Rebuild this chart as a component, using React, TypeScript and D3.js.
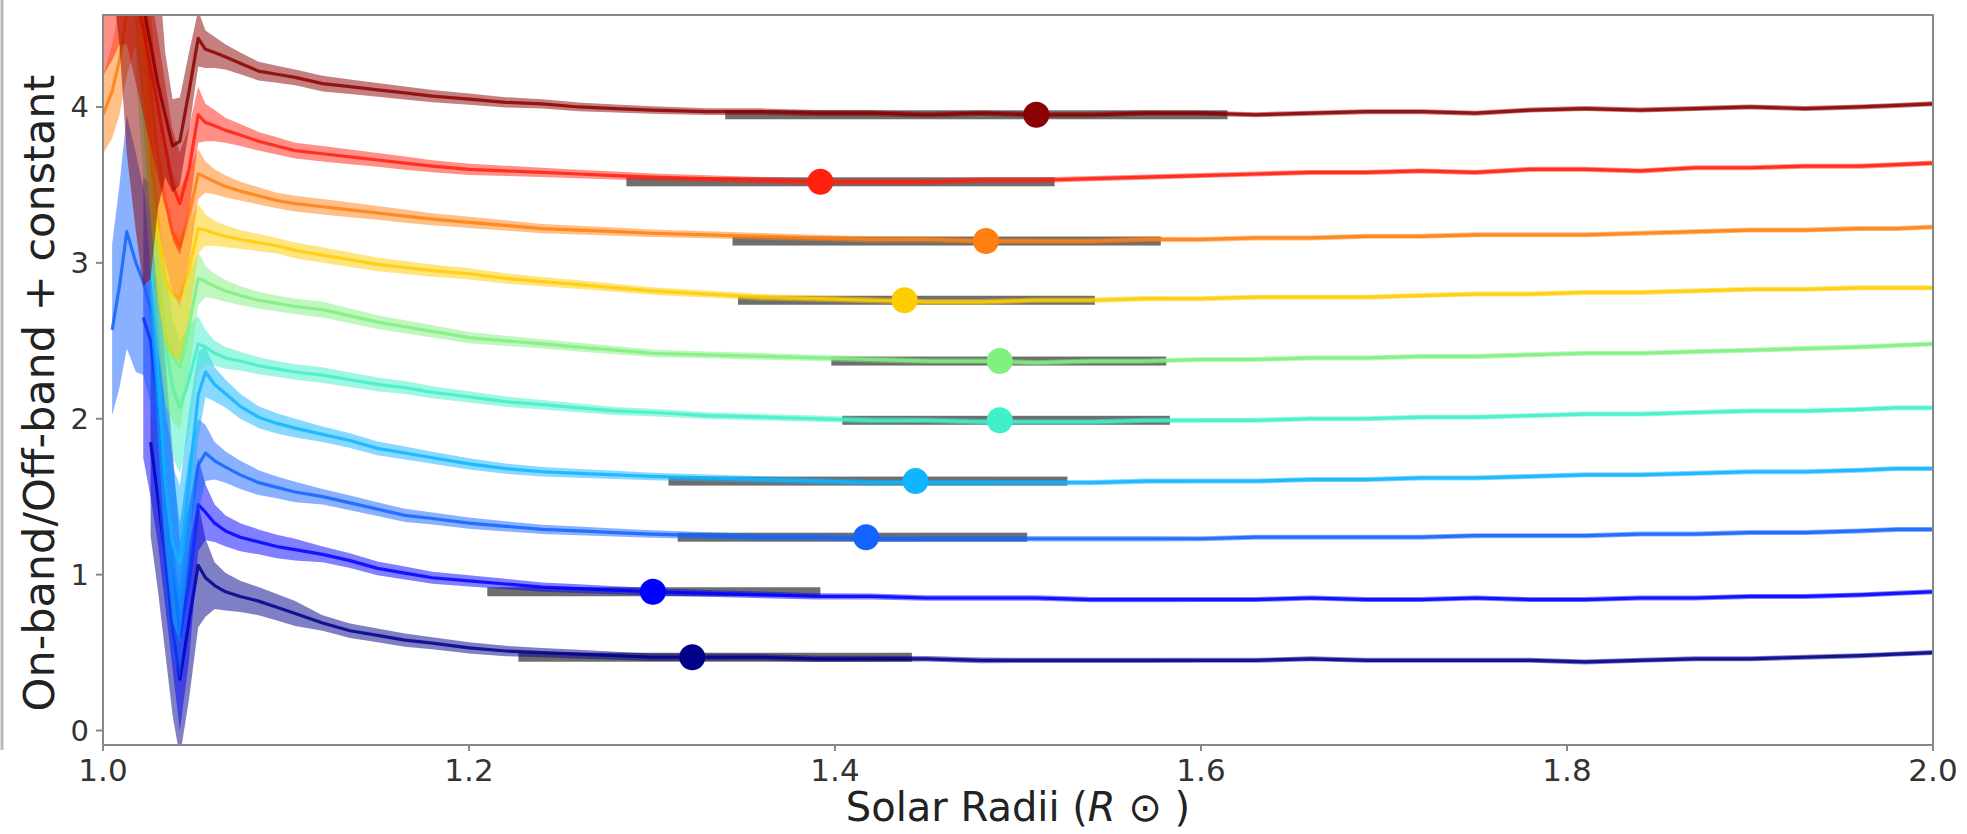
import React from "react";
import * as d3 from "d3";

// x grid (solar radii) shared by every curve
const radii = [
  1.0, 1.005, 1.009, 1.013, 1.018, 1.022, 1.026, 1.03, 1.034, 1.038,
  1.042, 1.047, 1.052, 1.056, 1.061, 1.067, 1.075, 1.085, 1.095, 1.105,
  1.12, 1.135, 1.15, 1.165, 1.18, 1.2, 1.22, 1.24, 1.26, 1.28,
  1.3, 1.33, 1.36, 1.39, 1.42, 1.45, 1.48, 1.51, 1.54, 1.57,
  1.6, 1.63, 1.66, 1.69, 1.72, 1.75, 1.78, 1.81, 1.84, 1.87,
  1.9, 1.93, 1.96, 1.98, 2.0,
];

// curves, bottom (navy) to top (dark red); null = no data there
const navy = [
  null, null, null, null, null, null, 1.85, 1.5, 1.1, 0.65,
  0.33, 0.7, 1.06, 0.98, 0.93, 0.89, 0.86, 0.83, 0.79, 0.75,
  0.69, 0.64, 0.61, 0.58, 0.56, 0.53, 0.51, 0.5, 0.49, 0.48,
  0.47, 0.47, 0.47, 0.46, 0.46, 0.46, 0.45, 0.45, 0.45, 0.45,
  0.45, 0.45, 0.46, 0.45, 0.45, 0.45, 0.45, 0.44, 0.45, 0.46,
  0.46, 0.47, 0.48, 0.49, 0.5,
];
const blue = [
  null, null, null, null, null, 2.65, 2.5, 2.1, 1.6, 1.1,
  0.6, 0.95, 1.45, 1.4, 1.33, 1.28, 1.24, 1.21, 1.18, 1.16,
  1.13, 1.09, 1.04, 1.01, 0.98, 0.96, 0.94, 0.92, 0.91, 0.9,
  0.89, 0.88, 0.87, 0.86, 0.86, 0.85, 0.85, 0.85, 0.84, 0.84,
  0.84, 0.84, 0.85, 0.84, 0.84, 0.85, 0.84, 0.84, 0.85, 0.85,
  0.86, 0.86, 0.87, 0.88, 0.89,
];
const royal = [
  null, 2.57, 2.85, 3.2, 3.0, 2.88, 2.7, 2.2, 1.6, 1.1,
  0.83, 1.3, 1.7, 1.78, 1.73, 1.69, 1.64, 1.59, 1.56, 1.53,
  1.5, 1.46, 1.42, 1.38, 1.36, 1.33, 1.31, 1.29, 1.28, 1.27,
  1.26, 1.25, 1.24, 1.24, 1.23, 1.23, 1.23, 1.23, 1.23, 1.23,
  1.23, 1.24, 1.24, 1.24, 1.24, 1.25, 1.25, 1.25, 1.26, 1.26,
  1.27, 1.27, 1.28, 1.29, 1.29,
];
const sky = [
  null, null, null, null, null, null, 3.0, 2.3, 1.6, 1.2,
  1.07, 1.6, 2.15, 2.3, 2.22, 2.16, 2.08, 2.01, 1.97, 1.94,
  1.9, 1.86, 1.81, 1.78, 1.75, 1.71, 1.68, 1.66, 1.65, 1.64,
  1.63, 1.62, 1.61, 1.6, 1.59, 1.59, 1.59, 1.59, 1.59, 1.6,
  1.6, 1.6, 1.61, 1.61, 1.62, 1.62, 1.63, 1.64, 1.64, 1.65,
  1.66, 1.66, 1.67, 1.68, 1.68,
];
const turquoise = [
  null, null, null, null, null, null, 3.65, 3.0, 2.5, 2.2,
  2.07, 2.25, 2.48, 2.46, 2.42, 2.39, 2.37, 2.34, 2.32, 2.3,
  2.28, 2.25, 2.22, 2.2, 2.17, 2.14, 2.11, 2.09, 2.07, 2.05,
  2.04, 2.02, 2.01, 2.0, 1.99, 1.99, 1.98, 1.98, 1.98, 1.99,
  1.99, 1.99, 2.0, 2.0, 2.01, 2.01, 2.02, 2.03, 2.03, 2.04,
  2.05, 2.05, 2.06, 2.07, 2.07,
];
const green = [
  null, null, null, null, 4.6, 4.0, 3.4, 2.9, 2.55, 2.4,
  2.33, 2.6, 2.9, 2.88, 2.85, 2.82, 2.79, 2.76, 2.74, 2.72,
  2.7, 2.66, 2.62, 2.59, 2.56, 2.52, 2.5, 2.48, 2.46, 2.44,
  2.42, 2.41, 2.4, 2.39, 2.38, 2.37, 2.37, 2.36, 2.37, 2.37,
  2.38, 2.38, 2.39, 2.39, 2.4, 2.4, 2.41, 2.42, 2.42, 2.43,
  2.44, 2.45, 2.46, 2.47, 2.48,
];
const yellow = [
  null, null, null, null, 5.0, 4.5, 3.8, 3.2, 2.9, 2.8,
  2.77, 2.95, 3.22, 3.21, 3.19, 3.17, 3.15, 3.13, 3.11, 3.08,
  3.05, 3.02, 2.99, 2.97, 2.95, 2.93, 2.9, 2.88, 2.86, 2.84,
  2.82, 2.8, 2.78, 2.77, 2.76, 2.75, 2.75, 2.76, 2.76, 2.77,
  2.77, 2.78, 2.78, 2.78, 2.79, 2.8, 2.8, 2.81, 2.81, 2.82,
  2.83, 2.83, 2.84, 2.84, 2.84,
];
const orange = [
  3.95, 4.1, 4.3, 4.6, 4.9, 4.6, 4.1, 3.7, 3.4, 3.2,
  3.1, 3.3, 3.57, 3.55, 3.52, 3.49, 3.46, 3.43, 3.4, 3.38,
  3.36, 3.34, 3.32, 3.3, 3.28, 3.26, 3.24, 3.22, 3.21, 3.2,
  3.19, 3.18, 3.17, 3.16, 3.15, 3.15, 3.14, 3.14, 3.14, 3.15,
  3.15, 3.16, 3.16, 3.17, 3.17, 3.18, 3.18, 3.18, 3.19, 3.2,
  3.21, 3.21, 3.22, 3.22, 3.23,
];
const red = [
  4.7, 4.8, 4.9, 4.9, 4.7, 4.5, 4.25, 4.0, 3.75, 3.5,
  3.38, 3.6, 3.95, 3.9, 3.88, 3.85, 3.82, 3.78, 3.75, 3.72,
  3.7, 3.68, 3.66, 3.64, 3.62, 3.6, 3.59, 3.58, 3.57, 3.56,
  3.55, 3.54, 3.53, 3.52, 3.52, 3.52, 3.53, 3.53, 3.54, 3.55,
  3.56, 3.57, 3.58, 3.58, 3.59, 3.58, 3.6, 3.6, 3.59, 3.61,
  3.61, 3.62, 3.62, 3.63, 3.64,
];
const darkRed = [
  5.4, 5.4, 5.3, 5.1, 4.9, 4.65, 4.4, 4.15, 3.95, 3.75,
  3.78, 4.1, 4.44, 4.37, 4.35, 4.32, 4.28, 4.23, 4.21, 4.19,
  4.15, 4.13, 4.11, 4.09, 4.07, 4.05, 4.03, 4.02, 4.0, 3.99,
  3.98, 3.97, 3.97, 3.96, 3.96, 3.95, 3.96, 3.95, 3.95, 3.96,
  3.96, 3.95, 3.96, 3.97, 3.97, 3.96, 3.98, 3.99, 3.98, 3.99,
  4.0, 3.99, 4.0, 4.01, 4.02,
];

// uncertainty half-widths: first 20 grid points per curve, then one shared tail
const navyBand = [null, null, null, null, null, null, 0.6, 0.6, 0.6, 0.55, 0.5, 0.5, 0.4, 0.25, 0.15, 0.12, 0.1, 0.09, 0.085, 0.08];
const blueBand = [null, null, null, null, null, 0.9, 1.0, 0.9, 0.8, 0.7, 0.6, 0.5, 0.3, 0.18, 0.12, 0.1, 0.09, 0.08, 0.075, 0.07];
const royalBand = [null, 0.55, 0.65, 0.75, 0.7, 0.6, 0.6, 0.65, 0.7, 0.6, 0.5, 0.45, 0.3, 0.18, 0.12, 0.1, 0.09, 0.08, 0.07, 0.065];
const skyBand = [null, null, null, null, null, null, 0.35, 0.4, 0.45, 0.5, 0.5, 0.45, 0.28, 0.16, 0.11, 0.09, 0.08, 0.07, 0.065, 0.06];
const turquoiseBand = [null, null, null, null, null, null, 0.15, 0.35, 0.45, 0.45, 0.42, 0.35, 0.18, 0.11, 0.08, 0.07, 0.06, 0.055, 0.05, 0.05];
const greenBand = [null, null, null, null, 0.4, 0.45, 0.45, 0.45, 0.45, 0.42, 0.4, 0.32, 0.17, 0.1, 0.08, 0.07, 0.06, 0.055, 0.05, 0.05];
const yellowBand = [null, null, null, null, 0.45, 0.5, 0.5, 0.45, 0.42, 0.4, 0.4, 0.3, 0.16, 0.1, 0.08, 0.07, 0.06, 0.055, 0.05, 0.05];
const orangeBand = [0.25, 0.3, 0.35, 0.4, 0.5, 0.55, 0.5, 0.45, 0.4, 0.38, 0.38, 0.3, 0.16, 0.1, 0.08, 0.07, 0.06, 0.055, 0.05, 0.05];
const redBand = [0.5, 0.5, 0.5, 0.5, 0.55, 0.55, 0.5, 0.45, 0.4, 0.35, 0.33, 0.27, 0.18, 0.12, 0.1, 0.08, 0.07, 0.06, 0.055, 0.05];
const darkRedBand = [0.5, 0.6, 0.9, 1.4, 1.7, 1.8, 1.5, 0.8, 0.4, 0.3, 0.28, 0.25, 0.18, 0.12, 0.1, 0.08, 0.07, 0.06, 0.055, 0.05];
const tailBand = [
  0.05, 0.047, 0.044, 0.042, 0.039, 0.036, 0.033, 0.03, 0.028, 0.026,
  0.024, 0.022, 0.021, 0.02, 0.019, 0.018, 0.018, 0.017, 0.017, 0.017,
  0.016, 0.016, 0.016, 0.016, 0.016, 0.016, 0.016, 0.016, 0.016, 0.016,
  0.016, 0.016, 0.016, 0.016, 0.016,
];

const curves = [navy, blue, royal, sky, turquoise, green, yellow, orange, red, darkRed];
const bands = [navyBand, blueBand, royalBand, skyBand, turquoiseBand, greenBand, yellowBand, orangeBand, redBand, darkRedBand];
const colors = ["#00008b", "#0000ff", "#1464ff", "#10b4ff", "#40f0c8", "#80f080", "#ffcc00", "#ff7f10", "#ff2010", "#8b0000"];

// markers with horizontal error bars
const markerX = [1.322, 1.3005, 1.417, 1.444, 1.49, 1.49, 1.438, 1.4825, 1.392, 1.51];
const markerY = [0.47, 0.89, 1.24, 1.6, 1.99, 2.37, 2.76, 3.14, 3.52, 3.95];
const barLo = [1.227, 1.21, 1.314, 1.309, 1.404, 1.398, 1.347, 1.344, 1.286, 1.34];
const barHi = [1.442, 1.392, 1.505, 1.527, 1.583, 1.581, 1.542, 1.578, 1.52, 1.6145];

const xTicks = [1.0, 1.2, 1.4, 1.6, 1.8, 2.0];
const yTicks = [0, 1, 2, 3, 4];

const W = 1967;
const H = 834;
const left = 103, right = 1933, top = 15, bottom = 745;
const font = "DejaVu Sans, sans-serif";

export default function App() {
  const x = d3.scaleLinear().domain([1.0, 2.0]).range([left, right]);
  const y = d3.scaleLinear().domain([-0.093, 4.59]).range([bottom, top]);

  const rows = curves.map((ys, i) =>
    ys.map((v, j) => ({ x: radii[j], y: v, e: j < 20 ? bands[i][j] : tailBand[j - 20] }))
  );

  const area = d3
    .area<any>()
    .defined((d) => d.y != null)
    .x((d) => x(d.x))
    .y0((d) => y(d.y - d.e))
    .y1((d) => y(d.y + d.e));
  const line = d3
    .line<any>()
    .defined((d) => d.y != null)
    .x((d) => x(d.x))
    .y((d) => y(d.y));

  return (
    <div style={{ position: "absolute", left: 0, top: 0 }}>
      <svg width={W} height={H} style={{ display: "block", background: "#fff" }}>
        <defs>
          <clipPath id="plot">
            <rect x={left} y={top} width={right - left} height={bottom - top} />
          </clipPath>
        </defs>

        {/* stray panel edge at far left */}
        <line x1={2} x2={2} y1={0} y2={750} stroke="#b8b8b8" strokeWidth={3} />

        <g clipPath="url(#plot)">
          {markerY.map((v, i) => (
            <rect
              key={"bar" + i}
              x={x(barLo[i])}
              y={y(v) - 4.5}
              width={x(barHi[i]) - x(barLo[i])}
              height={9}
              fill="#6e6e6e"
            />
          ))}
          {rows.map((r, i) => (
            <g key={"c" + i}>
              <path d={area(r) || ""} fill={colors[i]} fillOpacity={0.5} stroke="none" />
              <path d={line(r) || ""} fill="none" stroke={colors[i]} strokeOpacity={0.85} strokeWidth={3.2} strokeLinejoin="round" />
            </g>
          ))}
          {markerY.map((v, i) => (
            <circle key={"m" + i} cx={x(markerX[i])} cy={y(v)} r={13} fill={colors[i]} />
          ))}
        </g>

        {/* frame */}
        <rect x={left} y={top} width={right - left} height={bottom - top} fill="none" stroke="#888" strokeWidth={2} />

        {/* y axis */}
        {yTicks.map((t) => (
          <g key={"yt" + t}>
            <line x1={left - 7} x2={left} y1={y(t)} y2={y(t)} stroke="#888" strokeWidth={2} />
            <text
              x={left - 14}
              y={y(t)}
              textAnchor="end"
              dominantBaseline="central"
              fontFamily={font}
              fontSize={29}
              fill="#333"
            >
              {t}
            </text>
          </g>
        ))}

        {/* x axis */}
        {xTicks.map((t) => (
          <g key={"xt" + t}>
            <line x1={x(t)} x2={x(t)} y1={bottom} y2={bottom + 6} stroke="#888" strokeWidth={2} />
            <text x={x(t)} y={781} textAnchor="middle" fontFamily={font} fontSize={31} fill="#333">
              {t.toFixed(1)}
            </text>
          </g>
        ))}

        <text x={(left + right) / 2} y={821} textAnchor="middle" fontFamily={font} fontSize={40} fill="#222">
          Solar Radii (<tspan fontStyle="italic">R</tspan> ⊙ )
        </text>
        <text
          transform={`translate(54, 393) rotate(-90)`}
          textAnchor="middle"
          fontFamily={font}
          fontSize={43}
          fill="#222"
        >
          On-band/Off-band + constant
        </text>
      </svg>
    </div>
  );
}
